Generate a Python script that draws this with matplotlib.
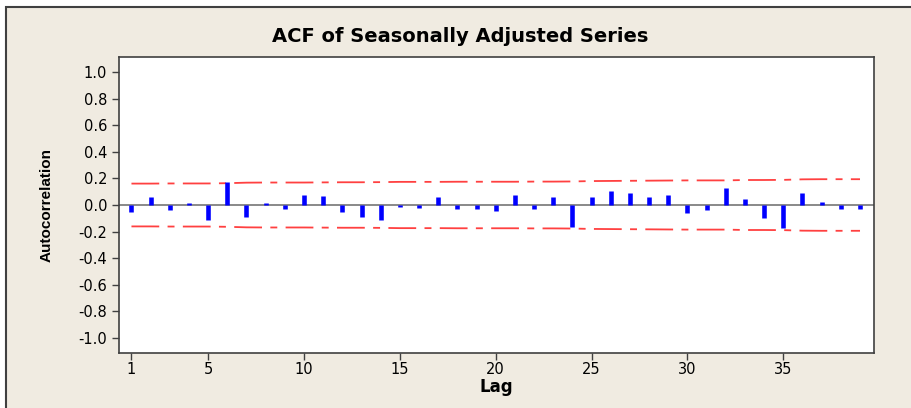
import matplotlib
matplotlib.use("Agg")
import matplotlib.pyplot as plt
from matplotlib.patches import Rectangle

# autocorrelation per lag
lags = list(range(1, 40))
acf = [-0.052, 0.062, -0.041, 0.015, -0.113, 0.171, -0.090, 0.015, -0.031, 0.078,
       0.068, -0.050, -0.090, -0.113, -0.013, -0.023, 0.061, -0.031, -0.031, -0.043,
       0.075, -0.028, 0.061, -0.163, 0.061, 0.105, 0.090, 0.061, 0.075, -0.058,
       -0.035, 0.131, 0.045, -0.098, -0.171, 0.093, 0.023, -0.028, -0.028]
# 5% significance limits (upper; lower is the mirror)
limit = [0.161, 0.161, 0.162, 0.162, 0.162, 0.164, 0.168, 0.169, 0.169, 0.169,
         0.170, 0.171, 0.171, 0.172, 0.174, 0.174, 0.174, 0.175, 0.175, 0.175,
         0.175, 0.176, 0.176, 0.177, 0.180, 0.181, 0.182, 0.183, 0.184, 0.185,
         0.185, 0.185, 0.188, 0.188, 0.189, 0.193, 0.194, 0.194, 0.194]
xticks = [1, 5, 10, 15, 20, 25, 30, 35]
yticks = [-1.0, -0.8, -0.6, -0.4, -0.2, 0.0, 0.2, 0.4, 0.6, 0.8, 1.0]

plt.rcParams['lines.scale_dashes'] = False
plt.rcParams['axes.unicode_minus'] = False
W, H = 911, 408
fig = plt.figure(figsize=(W / 100, H / 100), dpi=100, facecolor='white')

# beige panel with dark frame line on top/left
panel = Rectangle((6 / W, -0.05), 1.0, (H - 7) / H + 0.05, transform=fig.transFigure,
                  facecolor='#F0EBE1', edgecolor='#404040', lw=1.5, zorder=-10)
fig.add_artist(panel)

ax = fig.add_axes([119 / W, 1 - 353 / H, (874 - 119) / W, (353 - 57) / H])
ax.set_facecolor('white')

ax.axhline(0, color='#808080', lw=1.3, zorder=1)
ax.vlines(lags, 0, acf, colors='#0000FF', lw=3.3, zorder=3)
dash = (0, (20, 6, 5, 6))
ax.plot(lags, limit, color='#FF4040', lw=1.3, ls=dash, zorder=2)
ax.plot(lags, [-v for v in limit], color='#FF4040', lw=1.3, ls=dash, zorder=2)

ax.set_xlim(0.35, 39.73)
ax.set_ylim(-1.113, 1.113)
ax.set_xticks(xticks)
ax.set_yticks(yticks)
ax.set_yticklabels(['%.1f' % v for v in yticks])
ax.tick_params(direction='out', length=5, width=1, color='#404040',
               labelsize=10.5, labelcolor='black')
ax.tick_params(axis='y', pad=3.6)
ax.tick_params(axis='x', pad=1.5)
for s in ax.spines.values():
    s.set_color('#404040')
    s.set_linewidth(1.2)

fig.text(460 / W, 1 - 36 / H, 'ACF of Seasonally Adjusted Series', ha='center', va='center',
         fontsize=14, fontweight='bold')
ax.set_xlabel('Lag', fontsize=12, fontweight='bold', labelpad=1)
fig.text(46.5 / W, 1 - 205 / H, 'Autocorrelation', rotation=90, ha='center', va='center',
         fontsize=11, fontweight='bold',
         family=['Liberation Sans Narrow', 'Liberation Sans', 'DejaVu Sans'])

fig.savefig('out.png', dpi=100)
